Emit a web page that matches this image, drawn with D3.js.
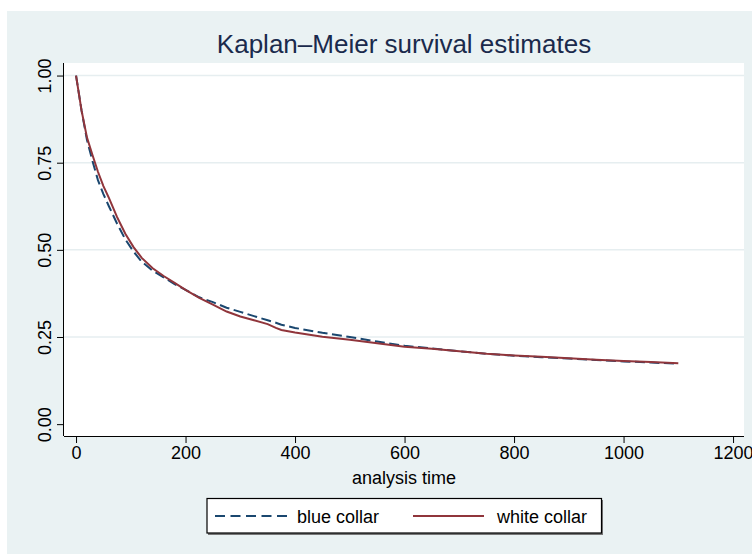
<!DOCTYPE html>
<html>
<head>
<meta charset="utf-8">
<script src="https://cdn.jsdelivr.net/npm/d3@7"></script>
<style>
body{margin:0;background:#fff}
text{font-family:"Liberation Sans",Arial,Helvetica,sans-serif}
</style>
</head>
<body>
<div id="chart"></div>
<script>
const times=[0,10,20,30,40,50,60,75,90,105,120,140,160,180,200,225,250,275,300,325,350,365,375,400,450,500,550,600,650,700,750,800,850,900,950,1000,1050,1100]

const blueCollar=[1.00,0.90,0.815,0.755,0.700,0.660,0.625,0.575,0.530,0.495,0.466,0.440,0.421,0.402,0.385,0.364,0.350,0.334,0.322,0.310,0.298,0.291,0.285,0.276,0.262,0.250,0.237,0.225,0.217,0.209,0.202,0.196,0.192,0.188,0.184,0.180,0.177,0.173]
const whiteCollar=[1.00,0.90,0.822,0.772,0.724,0.683,0.649,0.594,0.546,0.508,0.477,0.447,0.425,0.405,0.385,0.362,0.343,0.323,0.309,0.298,0.287,0.276,0.270,0.263,0.251,0.242,0.232,0.222,0.216,0.209,0.202,0.197,0.193,0.189,0.185,0.181,0.178,0.175]

const xTicks=[0,200,400,600,800,1000,1200]
const yTicks=[0,0.25,0.5,0.75,1]

const width=752
const height=554

const plot={left:64,top:63,right:744,bottom:436}

const svg=d3.select("#chart")
.append("svg")
.attr("width",width)
.attr("height",height)

svg.append("rect")
.attr("x",7).attr("y",11)
.attr("width",width-7).attr("height",height-11)
.attr("fill","#eaf2f3")

svg.append("rect")
.attr("x",plot.left).attr("y",plot.top)
.attr("width",plot.right-plot.left).attr("height",plot.bottom-plot.top)
.attr("fill","#fff")

const x=d3.scaleLinear().domain([-22,1220]).range([plot.left,plot.right])
const y=d3.scaleLinear().domain([-0.034,1.036]).range([plot.bottom,plot.top])

// grid
svg.append("g")
.selectAll("line")
.data(yTicks.filter(d=>d>0))
.enter()
.append("line")
.attr("x1",plot.left).attr("x2",plot.right)
.attr("y1",d=>y(d)).attr("y2",d=>y(d))
.attr("stroke","#e6eef0")
.attr("stroke-width",1.5)

// axes
const xAxis=svg.append("g")
.attr("transform",`translate(0,${plot.bottom})`)
.call(d3.axisBottom(x).tickValues(xTicks).tickSize(7).tickPadding(3).tickFormat(d3.format("d")))

xAxis.select(".domain").attr("d",`M${plot.left},0.5H${plot.right}`).attr("stroke","#000")
xAxis.selectAll("text").attr("font-size",18).attr("fill","#000").attr("font-family","Liberation Sans, Arial, sans-serif")

const yAxis=svg.append("g")
.attr("transform",`translate(${plot.left},0)`)
.call(d3.axisLeft(y).tickValues(yTicks).tickSize(7).tickFormat(d3.format(".2f")))

yAxis.select(".domain").attr("d",`M-0.5,${plot.top}V${plot.bottom}`).attr("stroke","#000")
yAxis.selectAll("text")
.attr("font-size",18)
.attr("fill","#000")
.attr("font-family","Liberation Sans, Arial, sans-serif")
.attr("text-anchor","middle")
.attr("x",0).attr("dy",0)
.attr("transform","translate(-19,0) rotate(-90)")
.attr("dominant-baseline","central")

// curves
const line=d3.line()
.x((d,i)=>x(times[i]))
.y(d=>y(d))

svg.append("path")
.datum(blueCollar)
.attr("d",line)
.attr("fill","none")
.attr("stroke","#1a476f")
.attr("stroke-width",2)
.attr("stroke-dasharray","10,4.5")

svg.append("path")
.datum(whiteCollar)
.attr("d",line)
.attr("fill","none")
.attr("stroke","#90353b")
.attr("stroke-width",2)

// titles
svg.append("text")
.attr("x",(plot.left+plot.right)/2)
.attr("y",53)
.attr("text-anchor","middle")
.attr("font-size",26)
.attr("fill","#1a2a4c")
.text("Kaplan\u2013Meier survival estimates")

svg.append("text")
.attr("x",(plot.left+plot.right)/2)
.attr("y",484)
.attr("text-anchor","middle")
.attr("font-size",18)
.attr("fill","#000")
.text("analysis time")

// legend
const legend=svg.append("g")

legend.append("rect")
.attr("x",208).attr("y",500)
.attr("width",395).attr("height",35)
.attr("fill","#777")

legend.append("rect")
.attr("x",207).attr("y",498.5)
.attr("width",394.5).attr("height",34.5)
.attr("fill","#fff")
.attr("stroke","#000")
.attr("stroke-width",1.2)

const items=[
{label:"blue collar",color:"#1a476f",dash:"10,5.5",x1:215,x2:287,tx:297},
{label:"white collar",color:"#90353b",dash:null,x1:413,x2:484,tx:497}
]

items.forEach(d=>{
legend.append("line")
.attr("x1",d.x1).attr("x2",d.x2)
.attr("y1",516).attr("y2",516)
.attr("stroke",d.color)
.attr("stroke-width",2)
.attr("stroke-dasharray",d.dash)
legend.append("text")
.attr("x",d.tx).attr("y",522.5)
.attr("font-size",18)
.attr("fill","#000")
.text(d.label)
})
</script>
</body>
</html>
